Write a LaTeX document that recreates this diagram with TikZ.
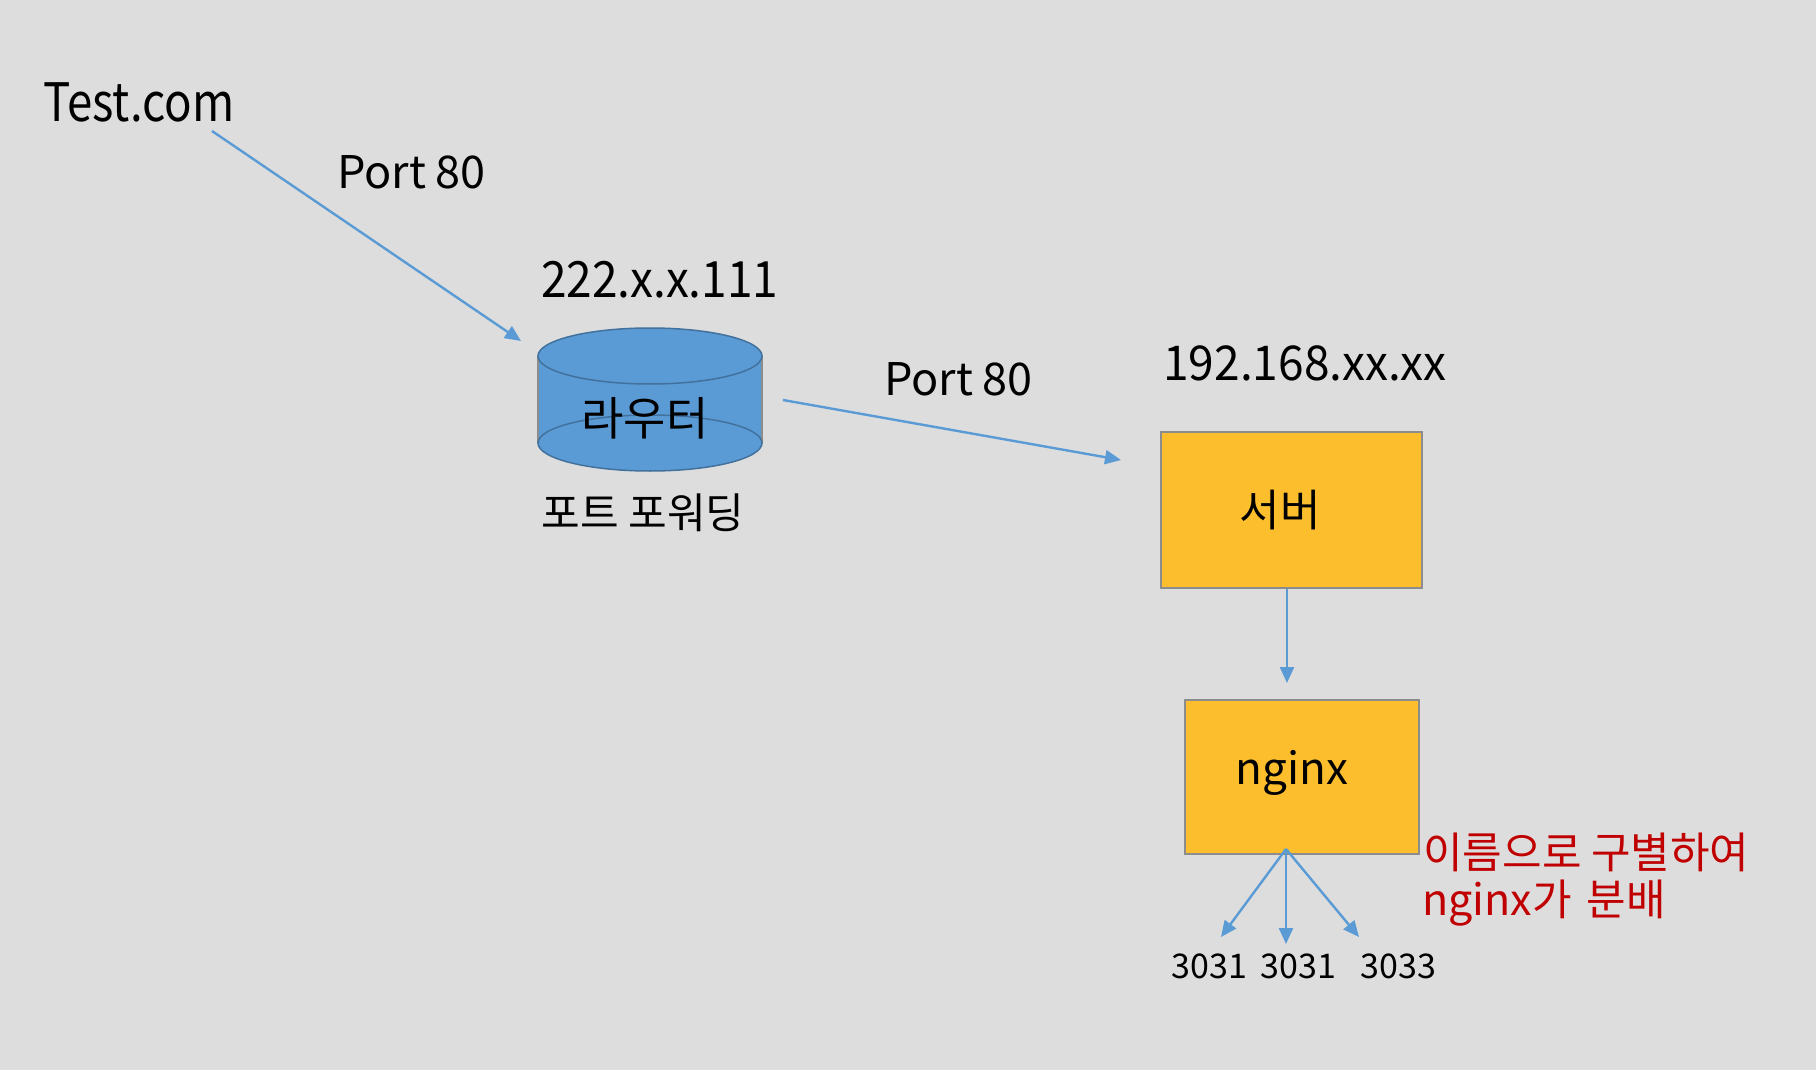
\documentclass[tikz,border=0pt]{standalone}
\usepackage{fontspec}
\usepackage{graphicx}
\setmainfont{Noto Sans CJK KR}
\usetikzlibrary{arrows.meta}
\definecolor{bg}{RGB}{221,221,221}
\definecolor{arrowblue}{RGB}{91,155,213}
\definecolor{cylblue}{RGB}{91,155,213}
\definecolor{cylline}{RGB}{65,113,156}
\definecolor{boxgold}{RGB}{252,190,45}
\definecolor{boxgray}{RGB}{140,140,140}
\definecolor{redtxt}{RGB}{192,0,0}
\newcommand\setfs[1]{\fontsize{#1pt}{#1pt}\selectfont}
\begin{document}
\begin{tikzpicture}[x=0.5pt,y=-0.5pt,
  conn/.style={draw=arrowblue, line width=1.2pt, -{Triangle[length=8pt,width=7pt]}},
  txt/.style={inner sep=0pt, anchor=base west, text=black},
  box/.style={draw=boxgray, fill=boxgold, line width=1pt, inner sep=0pt}]
\fill[bg] (0,0) rectangle (1816,1070);
\useasboundingbox (0,0) rectangle (1816,1070);

% texts
\node[txt, font=\setfs{26.5}] (test) at (43,122) {\scalebox{0.86}[1]{Test.com}};
\node[txt, font=\setfs{22.5}] (port1) at (337,189) {Port\hspace{0.2em}80};
\node[txt, font=\setfs{25}] (ip1) at (541,297) {\scalebox{0.92}[1]{222.x.x.111}};
\node[txt, font=\setfs{22.5}] (port2) at (884,395) {Port\hspace{0.2em}80};
\node[txt, font=\setfs{24}] (ip2) at (1163,380) {\scalebox{0.96}[1]{192.168.xx.xx}};

% router cylinder
\fill[cylblue] (538,356) -- (538,443) arc[start angle=180,end angle=0,x radius=112,y radius=28] -- (762,356) -- cycle;
\draw[boxgray, line width=0.75pt] (538,356) -- (538,443) (762,356) -- (762,443);
\draw[cylline, line width=0.75pt] (650,443) ellipse[x radius=112,y radius=28];
\filldraw[fill=cylblue, draw=cylline, line width=0.75pt] (650,356) ellipse[x radius=112,y radius=28];
\node[inner sep=0pt, font=\setfs{23}] (router) at (645,418) {라우터};
\node[inner sep=0pt, font=\setfs{21}] (fwd) at (643,513) {포트 포워딩};

% boxes
\node[box, minimum width=130.5pt, minimum height=78pt, font=\setfs{22}] (server) at (1291.5,510) {서버\hspace*{11.5pt}};
\node[box, minimum width=117pt, minimum height=77pt, font=\setfs{22}] (nginx) at (1302,777) {\raisebox{10pt}{nginx}\hspace*{10pt}};

% ports
\node[txt, font=\setfs{17}] (p1) at (1171,978) {3031};
\node[txt, font=\setfs{17}] (p2) at (1260,978) {3031};
\node[txt, font=\setfs{17}] (p3) at (1360,978) {3033};

% red note
\node[txt, text=redtxt, font=\setfs{21.5}] (note1) at (1423,868) {이름으로 구별하여};
\node[txt, text=redtxt, font=\setfs{21.5}] (note2) at (1422,915) {nginx가\hspace*{7.5pt}분배};

% connector endpoints
\coordinate (a1s) at (212,131);
\coordinate (a1e) at (521,341);
\coordinate (a2s) at (783,400);
\coordinate (a2e) at (1121,460);
\coordinate (a3e) at (1287,683);
\coordinate (fan) at (1286,849);
\coordinate (f1) at (1221,937);
\coordinate (f2) at (1286,944);
\coordinate (f3) at (1359,937);

\draw[conn] (a1s) -- (a1e);
\draw[conn] (a2s) -- (a2e);
\draw[conn] (server.south -| a3e) -- (a3e);
\draw[conn] (fan) -- (f1);
\draw[conn] (fan) -- (f2);
\draw[conn] (fan) -- (f3);
\end{tikzpicture}
\end{document}
